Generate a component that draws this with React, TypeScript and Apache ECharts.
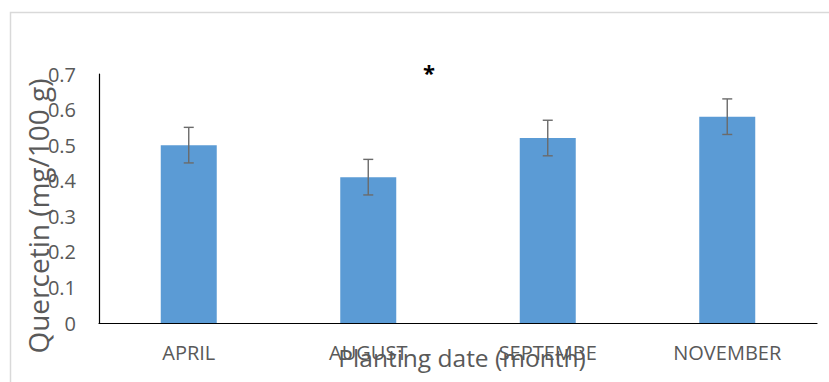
import React, { useEffect, useRef } from "react";
import * as echarts from "echarts";

const categories = ["APRIL", "AUGUST", "SEPTEMBE", "NOVEMBER"];
const values = [0.5, 0.41, 0.52, 0.58];
const errors = [0.05, 0.05, 0.05, 0.05];
const yTicks = [0, 0.1, 0.2, 0.3, 0.4, 0.5, 0.6, 0.7];

const FONT = "'Open Sans', sans-serif";
const GRAY = "#595959";

export default function App() {
  const ref = useRef<HTMLDivElement>(null);
  useEffect(() => {
    document.body.style.margin = "0";
    const chart = echarts.init(ref.current!, null, { renderer: "svg" });
    const errData = values.map((v, i) => [i, v - errors[i], v + errors[i]]);
    chart.setOption({
      animation: false,
      backgroundColor: "#ffffff",
      grid: { left: 99, top: 74, right: 12, bottom: 59, containLabel: false, outerBoundsMode: "none" },
      xAxis: {
        type: "category",
        data: categories,
        axisLine: { show: true, lineStyle: { color: "#000000", width: 1.2 } },
        axisTick: { show: false },
        axisLabel: { color: GRAY, fontSize: 20, fontFamily: FONT, margin: 19 },
        name: "Planting date (month)",
        nameLocation: "middle",
        nameGap: 22,
        nameMoveOverlap: false,
        nameTextStyle: { color: GRAY, fontSize: 24.5, fontFamily: FONT, padding: [0, 0, 0, 8] },
      },
      yAxis: {
        type: "value",
        min: 0,
        max: 0.7,
        interval: 0.1,
        axisLine: { show: true, lineStyle: { color: "#000000", width: 1.2 } },
        axisTick: { show: false },
        splitLine: { show: false },
        axisLabel: {
          color: GRAY,
          fontSize: 20,
          fontFamily: FONT,
          margin: 23,
          formatter: (v: number) => {
            const t = yTicks.find((x) => Math.abs(x - v) < 1e-9);
            return t === undefined ? "" : String(t);
          },
        },
      },
      graphic: [
        {
          type: "rect",
          shape: { x: 10.5, y: 12.5, width: 900, height: 500 },
          style: { fill: "none", stroke: "#d9d9d9", lineWidth: 1.5 },
          silent: true,
        },
        {
          type: "text",
          x: 38,
          y: 216,
          rotation: Math.PI / 2,
          style: {
            text: "Quercetin (mg/100 g)",
            fill: GRAY,
            fontSize: 28,
            fontFamily: FONT,
            align: "center",
            verticalAlign: "middle",
          },
        },
        {
          type: "text",
          x: 429,
          y: 72,
          style: {
            text: "*",
            fill: "#000000",
            fontSize: 22,
            fontWeight: "bold",
            fontFamily: FONT,
            align: "center",
            verticalAlign: "middle",
          },
        },
      ],
      series: [
        {
          type: "bar",
          data: values,
          barWidth: 56,
          itemStyle: { color: "#5b9bd5" },
        },
        {
          type: "custom",
          data: errData,
          z: 10,
          renderItem: (params: any, api: any) => {
            const i = api.value(0);
            const lo = api.coord([i, api.value(1)]);
            const hi = api.coord([i, api.value(2)]);
            const w = 5;
            const style = { stroke: "#6b6b6b", lineWidth: 1.4 };
            return {
              type: "group",
              children: [
                { type: "line", shape: { x1: hi[0], y1: hi[1], x2: lo[0], y2: lo[1] }, style },
                { type: "line", shape: { x1: hi[0] - w, y1: hi[1], x2: hi[0] + w, y2: hi[1] }, style },
                { type: "line", shape: { x1: lo[0] - w, y1: lo[1], x2: lo[0] + w, y2: lo[1] }, style },
              ],
            };
          },
        },
      ],
    });
    return () => chart.dispose();
  }, []);
  return <div ref={ref} style={{ width: 829, height: 382 }} />;
}
